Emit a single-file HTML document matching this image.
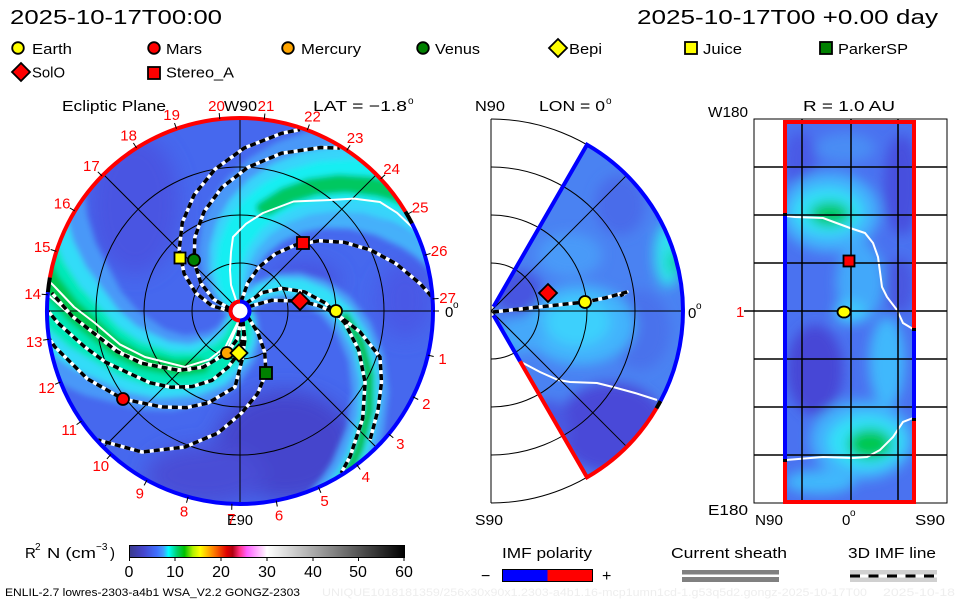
<!DOCTYPE html>
<html><head><meta charset="utf-8">
<style>
html,body{margin:0;padding:0;background:#fff;}
svg{display:block;}
text{font-family:"Liberation Sans",sans-serif;}
</style></head>
<body>
<svg width="960" height="600" viewBox="0 0 960 600" xmlns="http://www.w3.org/2000/svg">
<defs>
 <clipPath id="cd"><circle cx="240" cy="311" r="193"/></clipPath>
 <clipPath id="cw"><path d="M493.5,306.7 L587,144.7 A192,192 0 0 1 587,477.3 L493.5,315.3 Z"/></clipPath>
 <clipPath id="cr"><rect x="785" y="122" width="129" height="380"/></clipPath>
 <filter id="b3" filterUnits="userSpaceOnUse" x="0" y="0" width="960" height="600"><feGaussianBlur stdDeviation="3"/></filter>
 <filter id="b10" filterUnits="userSpaceOnUse" x="0" y="0" width="960" height="600"><feGaussianBlur stdDeviation="10"/></filter>
 <filter id="b6" filterUnits="userSpaceOnUse" x="0" y="0" width="960" height="600"><feGaussianBlur stdDeviation="6"/></filter>
 <linearGradient id="cbg" x1="0" x2="1" y1="0" y2="0">
  <stop offset="0" stop-color="#3a3a8c"/>
  <stop offset="0.05" stop-color="#4444cc"/>
  <stop offset="0.1" stop-color="#4070ff"/>
  <stop offset="0.124" stop-color="#40a0ff"/>
  <stop offset="0.142" stop-color="#00ffff"/>
  <stop offset="0.172" stop-color="#00d070"/>
  <stop offset="0.2" stop-color="#00c000"/>
  <stop offset="0.23" stop-color="#b0f000"/>
  <stop offset="0.257" stop-color="#ffff00"/>
  <stop offset="0.305" stop-color="#ff8000"/>
  <stop offset="0.354" stop-color="#e00000"/>
  <stop offset="0.375" stop-color="#b00010"/>
  <stop offset="0.4" stop-color="#ff3080"/>
  <stop offset="0.427" stop-color="#ff60ff"/>
  <stop offset="0.487" stop-color="#ffe0ff"/>
  <stop offset="0.5" stop-color="#ffffff"/>
  <stop offset="1" stop-color="#000000"/>
 </linearGradient>
 <!-- spiral geometry -->
 <path id="k58" fill="none" d="M230.4,311.2 L211.7,305.7 L195.6,292.9 L184.1,273.6 L179.2,249.6 L182.3,222.6 L194.1,194.9 L215.0,169.2 L244.4,147.9 L281.4,133.4 L300.0,129.6"/>
 <path id="k58x" fill="none" d="M230.4,311.2 L211.7,305.7 L195.6,292.9 L184.1,273.6 L179.2,249.6 L182.3,222.6 L194.1,194.9 L215.0,169.2 L244.4,147.9 L281.4,133.4 L300.0,129.6 L324.2,127.8"/>
 <path id="k58o" fill="none" d="M182.3,222.6 L194.1,194.9 L215.0,169.2 L244.4,147.9 L281.4,133.4 L300.0,129.6 L324.2,127.8"/>
 <path id="k41" fill="none" d="M241.2,301.5 L247.6,283.2 L259.1,267.0 L275.4,253.9 L295.6,244.9 L318.9,240.8 L344.2,242.3 L370.4,249.9 L396.2,263.8 L420.4,283.9 L431.4,296.3"/>
 <path id="k41x" fill="none" d="M241.2,301.5 L247.6,283.2 L259.1,267.0 L275.4,253.9 L295.6,244.9 L318.9,240.8 L344.2,242.3 L370.4,249.9 L396.2,263.8 L420.4,283.9 L431.4,296.3 L450.7,325.3"/>
 <path id="k41o" fill="none" d="M318.9,240.8 L344.2,242.3 L370.4,249.9 L396.2,263.8 L420.4,283.9 L431.4,296.3 L450.7,325.3"/>
 <path id="mer" fill="none" d="M241.3,320.5 L236.9,339.6 L227,353 L203.1,367.2 L178.6,370.3 L141.6,363.3 L116.9,351.5 L94.9,334.0 L72.1,316.1 L51.8,292.9"/>
 <path id="merx" fill="none" d="M241.3,320.5 L236.9,339.6 L227,353 L203.1,367.2 L178.6,370.3 L141.6,363.3 L116.9,351.5 L94.9,334.0 L72.1,316.1 L51.8,292.9 L34.2,263.5"/>
 <path id="mero" fill="none" d="M203.1,367.2 L178.6,370.3 L141.6,363.3 L116.9,351.5 L94.9,334.0 L72.1,316.1 L51.8,292.9 L34.2,263.5"/>
 <path id="bepi" fill="none" d="M242.8,320.2 L243.8,334.7 L239,353 L228,367.3 L211.9,380.4 L192.3,386.5 L171.3,387.3 L149.8,382.7 L128.3,372.9 L105.4,362.1 L84.7,346.9 L58,323 L48,311"/>
 <path id="mars" fill="none" d="M242.8,320.2 L244.9,339.4 L242,360 L235,387 L208,403 L186.5,407.6 L162,407 L123,399 L87.4,378.9 L55,347 L44.3,331.6"/>
 <path id="psp" fill="none" d="M247.7,316.8 L258,333 L264.7,352.1 L266,373 L257.6,393.6 L241.8,412.8 L218,433 L185,447 L142,452 L98,440"/>
 <path id="solo" fill="none" d="M248.6,306.7 L271.8,300.3 L300,301 L318.5,305.5 L336,313.5 L360.1,332 L380,357 L381.5,382.2 L378,410 L370,440"/>
 <path id="w2" fill="none" d="M239.7,318.7 L225.6,346.6 L209.1,359.6 L185,367 L145,357 L119.7,344.3 L95,323 L74,307 L55,287 L47,279"/>
</defs>

<!-- Header -->
<text x="10" y="24" font-size="20" textLength="212" lengthAdjust="spacingAndGlyphs">2025-10-17T00:00</text>
<text x="637" y="24" font-size="20" textLength="301" lengthAdjust="spacingAndGlyphs">2025-10-17T00 +0.00 day</text>

<!-- Legend -->
<g stroke="#000" stroke-width="1.8">
 <circle cx="18" cy="48" r="5.8" fill="#ffff00"/>
 <circle cx="154" cy="48" r="5.8" fill="#ff0000"/>
 <circle cx="288" cy="48" r="5.8" fill="#ffa500"/>
 <circle cx="423" cy="48" r="5.8" fill="#008000"/>
 <path d="M558,39 L567,48 L558,57 L549,48 Z" fill="#ffff00"/>
 <rect x="685" y="42" width="12" height="12" fill="#ffff00"/>
 <rect x="820" y="42" width="12" height="12" fill="#008000"/>
 <path d="M21,63 L30,72 L21,81 L12,72 Z" fill="#ff0000"/>
 <rect x="148" y="67" width="12" height="12" fill="#ff0000"/>
</g>
<g font-size="15">
 <text x="32" y="54" textLength="40" lengthAdjust="spacingAndGlyphs">Earth</text>
 <text x="166" y="54" textLength="36" lengthAdjust="spacingAndGlyphs">Mars</text>
 <text x="301" y="54" textLength="60" lengthAdjust="spacingAndGlyphs">Mercury</text>
 <text x="435" y="54" textLength="45" lengthAdjust="spacingAndGlyphs">Venus</text>
 <text x="569" y="54" textLength="33" lengthAdjust="spacingAndGlyphs">Bepi</text>
 <text x="703" y="54" textLength="39" lengthAdjust="spacingAndGlyphs">Juice</text>
 <text x="838" y="54" textLength="70" lengthAdjust="spacingAndGlyphs">ParkerSP</text>
 <text x="32" y="77.5" textLength="33" lengthAdjust="spacingAndGlyphs">SolO</text>
 <text x="166" y="77.5" textLength="68" lengthAdjust="spacingAndGlyphs">Stereo_A</text>
</g>

<!-- Panel titles -->
<g font-size="15">
 <text x="62" y="111" textLength="104" lengthAdjust="spacingAndGlyphs">Ecliptic Plane</text>
 <text x="224" y="111" textLength="33" lengthAdjust="spacingAndGlyphs">W90</text>
 <text x="313" y="111" textLength="94" lengthAdjust="spacingAndGlyphs">LAT = −1.8</text>
 <text x="408" y="104" font-size="10">o</text>
 <text x="475" y="111" textLength="30" lengthAdjust="spacingAndGlyphs">N90</text>
 <text x="539" y="111" textLength="66" lengthAdjust="spacingAndGlyphs">LON = 0</text>
 <text x="606" y="104" font-size="10">o</text>
 <text x="803" y="111" textLength="92" lengthAdjust="spacingAndGlyphs">R = 1.0 AU</text>
 <text x="708" y="117" textLength="40" lengthAdjust="spacingAndGlyphs">W180</text>
 <text x="708" y="515" textLength="40" lengthAdjust="spacingAndGlyphs">E180</text>
 <text x="445" y="317">0</text>
 <text x="453" y="308" font-size="10">o</text>
 <text x="227" y="525" textLength="26" lengthAdjust="spacingAndGlyphs">E90</text>
 <text x="688" y="318">0</text>
 <text x="696" y="309" font-size="10">o</text>
 <text x="475" y="525" textLength="28" lengthAdjust="spacingAndGlyphs">S90</text>
 <text x="755" y="525" textLength="28" lengthAdjust="spacingAndGlyphs">N90</text>
 <text x="842" y="525">0</text>
 <text x="850" y="516" font-size="10">o</text>
 <text x="915" y="525" textLength="30" lengthAdjust="spacingAndGlyphs">S90</text>
</g>

<!-- ===== LEFT DISK ===== -->
<g clip-path="url(#cd)">
 <circle cx="240" cy="311" r="196" fill="#4668ee"/>
 <g filter="url(#b10)">
  <ellipse cx="285" cy="445" rx="70" ry="55" fill="#4545cc"/>
  <ellipse cx="205" cy="475" rx="60" ry="30" fill="#4a4ed6"/>
  <ellipse cx="135" cy="205" rx="45" ry="70" fill="#4a54e2"/>
  <ellipse cx="405" cy="300" rx="28" ry="38" fill="#4a58e6"/>
  <ellipse cx="305" cy="280" rx="35" ry="18" fill="#4652e0"/>
 </g>
 <g filter="url(#b3)" fill="none" stroke-linecap="round" stroke-linejoin="round">
  <!-- top arm -->
  <g stroke="#4a98f8" stroke-width="22">
   <use href="#k41x" transform="rotate(-15 240 311)"/>
   <use href="#k41x" transform="rotate(-22 240 311)"/>
   <use href="#k41x" transform="rotate(-29 240 311)"/>
   <use href="#k41x" transform="rotate(-37 240 311)"/>
   <use href="#k41x" transform="rotate(-44 240 311)"/>
   <use href="#k41x" transform="rotate(-51 240 311)"/>
   <use href="#k41x" transform="rotate(-59 240 311)"/>
  </g>
  <g stroke="#44b0fa" stroke-width="16">
   <use href="#k41x" transform="rotate(-14 240 311)"/>
  </g>
  <g stroke="#38d4fa" stroke-width="18">
   <use href="#k41x" transform="rotate(-24 240 311)"/>
   <use href="#k41x" transform="rotate(-31 240 311)"/>
   <use href="#k41x" transform="rotate(-37 240 311)"/>
   <use href="#k41x" transform="rotate(-43 240 311)"/>
   <use href="#k41x" transform="rotate(-50 240 311)"/>
  </g>
  <g stroke="#14eef2" stroke-width="14">
   <use href="#k41x" transform="rotate(-30 240 311)"/>
   <use href="#k41x" transform="rotate(-37 240 311)"/>
   <use href="#k41x" transform="rotate(-44 240 311)"/>
  </g>
  <g stroke="#00c860" stroke-width="13">
   <use href="#k41o" transform="rotate(-33 240 311)"/>
   <use href="#k41o" transform="rotate(-36 240 311)"/>
  </g>
  <!-- lower-left arm -->
  <g stroke="#4a98f8" stroke-width="24">
   <use href="#merx" transform="rotate(24 240 311)"/>
   <use href="#merx" transform="rotate(16 240 311)"/>
   <use href="#merx" transform="rotate(8 240 311)"/>
   <use href="#merx"/>
   <use href="#merx" transform="rotate(-8 240 311)"/>
   <use href="#merx" transform="rotate(-16 240 311)"/>
   <use href="#merx" transform="rotate(-24 240 311)"/>
  </g>
  <g stroke="#30dcf8" stroke-width="22">
   <use href="#merx" transform="rotate(15 240 311)"/>
   <use href="#merx" transform="rotate(7.5 240 311)"/>
   <use href="#merx"/>
   <use href="#merx" transform="rotate(-7.5 240 311)"/>
   <use href="#merx" transform="rotate(-15 240 311)"/>
  </g>
  <g stroke="#00e8b8" stroke-width="18">
   <use href="#merx" transform="rotate(8 240 311)"/>
   <use href="#merx"/>
   <use href="#merx" transform="rotate(-8 240 311)"/>
  </g>
  <g stroke="#00c850" stroke-width="12">
   <use href="#mero" transform="rotate(4 240 311)"/>
   <use href="#mero"/>
  </g>
  <!-- Earth arm -->
  <g stroke="#4aa0f8" stroke-width="14">
   <use href="#k58x" transform="rotate(118.2 240 311)"/>
   <use href="#k58x" transform="rotate(126.2 240 311)"/>
   <use href="#k58x" transform="rotate(134.2 240 311)"/>
  </g>
  <g stroke="#30e0f8" stroke-width="11">
   <use href="#k58x" transform="rotate(123 240 311)"/>
   <use href="#k58x" transform="rotate(129 240 311)"/>
  </g>
  <g stroke="#00c040" stroke-width="9">
   <use href="#k58o" transform="rotate(126.2 240 311)"/>
  </g>
 </g>
 <g fill="none" stroke="#000" stroke-width="1">
  <circle cx="240" cy="311" r="48"/>
  <circle cx="240" cy="311" r="96"/>
  <circle cx="240" cy="311" r="144"/>
  <line x1="47" y1="311" x2="433" y2="311"/>
  <line x1="240" y1="118" x2="240" y2="504"/>
  <line x1="103.5" y1="174.5" x2="376.5" y2="447.5"/>
  <line x1="103.5" y1="447.5" x2="376.5" y2="174.5"/>
 </g>
 <!-- current sheath lines -->
 <g fill="none" stroke="#fff" stroke-width="2" stroke-linejoin="round">
  <polyline points="236.6,302 231,285 230,270 231,252 233,237 246,223.8 263,213 293.6,201.5 330,200 354,198.6 380,202 397,212.8 412,227 418,235"/>
  <use href="#w2"/>
  <use href="#w2" transform="rotate(-4 240 311)"/>
 </g>
 <!-- IMF field lines -->
 <g fill="none" stroke="#fff" stroke-width="3.5" stroke-linejoin="round">
  <use href="#k58"/>
  <use href="#k58" transform="rotate(13.2 240 311)"/>
  <use href="#k58" transform="rotate(129.7 240 311)"/>
  <use href="#k41"/>
  <use href="#solo"/>
  <use href="#mer"/>
  <use href="#bepi"/>
  <use href="#mars"/>
  <use href="#psp"/>
 </g>
 <g fill="none" stroke="#000" stroke-width="3.5" stroke-dasharray="6 4">
  <use href="#k58"/>
  <use href="#k58" transform="rotate(13.2 240 311)"/>
  <use href="#k58" transform="rotate(129.7 240 311)"/>
  <use href="#k41"/>
  <use href="#solo"/>
  <use href="#mer"/>
  <use href="#bepi"/>
  <use href="#mars"/>
  <use href="#psp"/>
 </g>
</g>

<!-- polarity ring -->
<g fill="none" stroke-width="4">
 <path d="M405.4,211.6 A193,193 0 0 0 49.9,277.5" stroke="#ff0000"/>
 <path d="M49.9,277.5 A193,193 0 0 0 47.9,292.2" stroke="#000"/>
 <path d="M47.9,292.2 A193,193 0 1 0 412.0,223.4" stroke="#0000ff"/>
 <path d="M412.0,223.4 A193,193 0 0 0 405.4,211.6" stroke="#000"/>
</g>
<!-- day ticks -->
<g stroke="#000" stroke-width="1">
 <line x1="433" y1="311" x2="439" y2="311"/>
 <line x1="427.9" y1="355.1" x2="433.7" y2="356.5"/>
 <line x1="412.9" y1="396.8" x2="418.2" y2="399.5"/>
 <line x1="388.7" y1="434.0" x2="393.3" y2="437.8"/>
 <line x1="356.7" y1="464.7" x2="360.3" y2="469.5"/>
 <line x1="318.5" y1="487.3" x2="320.9" y2="492.8"/>
 <line x1="276.2" y1="500.6" x2="277.3" y2="506.5"/>
 <line x1="231.9" y1="503.8" x2="231.7" y2="509.8"/>
 <line x1="188.1" y1="496.9" x2="186.5" y2="502.7"/>
 <line x1="147.0" y1="480.1" x2="144.1" y2="485.4"/>
 <line x1="110.9" y1="454.4" x2="106.9" y2="458.9"/>
 <line x1="81.5" y1="421.1" x2="76.6" y2="424.6"/>
 <line x1="60.5" y1="382.0" x2="55.0" y2="384.3"/>
 <line x1="49.1" y1="339.2" x2="43.1" y2="340.1"/>
 <line x1="47.7" y1="294.8" x2="41.7" y2="294.3"/>
 <line x1="56.4" y1="251.4" x2="50.7" y2="249.5"/>
 <line x1="74.9" y1="211.0" x2="69.8" y2="207.9"/>
 <line x1="102.1" y1="176.0" x2="97.8" y2="171.8"/>
 <line x1="136.6" y1="148.0" x2="133.4" y2="143.0"/>
 <line x1="176.5" y1="128.7" x2="174.5" y2="123.1"/>
 <line x1="219.8" y1="119.1" x2="219.2" y2="113.1"/>
 <line x1="264.2" y1="119.5" x2="264.9" y2="113.6"/>
 <line x1="307.3" y1="130.1" x2="309.4" y2="124.5"/>
 <line x1="346.8" y1="150.3" x2="350.1" y2="145.3"/>
 <line x1="380.7" y1="178.9" x2="385.1" y2="174.8"/>
 <line x1="407.1" y1="214.5" x2="412.3" y2="211.5"/>
 <line x1="424.8" y1="255.2" x2="430.5" y2="253.5"/>
 <line x1="432.6" y1="298.9" x2="438.6" y2="298.5"/>
</g>

<!-- Day labels -->
<g font-size="15" fill="#ff0000" text-anchor="middle">
 <text x="442.5" y="364">1</text>
 <text x="426.3" y="409">2</text>
 <text x="400.3" y="449">3</text>
 <text x="365.8" y="482">4</text>
 <text x="324.6" y="506">5</text>
 <text x="279" y="520.5">6</text>
 <text x="231.3" y="524">7</text>
 <text x="184.1" y="516.5">8</text>
 <text x="139.8" y="498.5">9</text>
 <text x="100.8" y="471">10</text>
 <text x="69.2" y="435">11</text>
 <text x="46.6" y="393">12</text>
 <text x="34.2" y="347">13</text>
 <text x="32.7" y="299">14</text>
 <text x="42.2" y="252">15</text>
 <text x="62.1" y="208.5">16</text>
 <text x="91.4" y="171">17</text>
 <text x="128.6" y="140.5">18</text>
 <text x="171.6" y="120">19</text>
 <text x="216.5" y="111">20</text>
 <text x="266" y="111">21</text>
 <text x="312.5" y="121.5">22</text>
 <text x="355.1" y="143">23</text>
 <text x="391.6" y="174">24</text>
 <text x="420.1" y="212.5">25</text>
 <text x="439.1" y="256">26</text>
 <text x="447.6" y="303">27</text>
</g>

<!-- Sun -->
<circle cx="240" cy="311" r="9.5" fill="#fff" stroke="#0000ff" stroke-width="4"/>
<path d="M240,301.5 A9.5,9.5 0 0 0 240,320.5" fill="none" stroke="#ff0000" stroke-width="4"/>
<circle cx="240" cy="311" r="7" fill="#fff"/>

<!-- Left markers -->
<g stroke="#000" stroke-width="1.8">
 <rect x="174.5" y="252.5" width="11" height="11" fill="#ffff00"/>
 <circle cx="194" cy="260" r="6" fill="#008000"/>
 <rect x="297" y="237" width="12" height="12" fill="#ff0000"/>
 <path d="M300,292 L309,301 L300,310 L291,301 Z" fill="#ff0000"/>
 <circle cx="336" cy="311" r="6" fill="#ffff00"/>
 <circle cx="227" cy="353" r="6" fill="#ffa500"/>
 <path d="M239,344.5 L247.5,353 L239,361.5 L230.5,353 Z" fill="#ffff00"/>
 <rect x="260" y="367" width="12" height="12" fill="#008000"/>
 <circle cx="123" cy="399" r="6" fill="#ff0000"/>
</g>

<!-- ===== MIDDLE WEDGE ===== -->
<g clip-path="url(#cw)">
 <rect x="480" y="130" width="210" height="360" fill="#4a82f2"/>
 <g filter="url(#b6)">
  <ellipse cx="570" cy="255" rx="32" ry="22" fill="#4a9af8"/>
  <ellipse cx="620" cy="205" rx="25" ry="30" fill="#4a6cea"/>
  <ellipse cx="640" cy="330" rx="30" ry="40" fill="#4a72ec"/>
  <ellipse cx="580" cy="325" rx="55" ry="40" fill="#42b4fc"/>
  <ellipse cx="578" cy="322" rx="32" ry="24" fill="#3ed0fc"/>
  <ellipse cx="520" cy="335" rx="22" ry="18" fill="#44a8fa"/>
  <ellipse cx="518" cy="292" rx="25" ry="22" fill="#4654e0"/>
  <ellipse cx="612" cy="428" rx="55" ry="45" fill="#4848d8"/>
  <ellipse cx="548" cy="430" rx="22" ry="30" fill="#4a58e2"/>
  <ellipse cx="668" cy="255" rx="14" ry="32" fill="#30e0f0"/>
  <ellipse cx="673" cy="262" rx="6" ry="13" fill="#00d8a0"/>
 </g>
 <polyline points="523,363 540,372 558,380 570,382 597,383 613,387 635,393 657,400" fill="none" stroke="#fff" stroke-width="2"/>
</g>
<g fill="none" stroke="#000" stroke-width="1">
 <path d="M491,263 A48,48 0 0 1 491,359"/>
 <path d="M491,215 A96,96 0 0 1 491,407"/>
 <path d="M491,167 A144,144 0 0 1 491,455"/>
 <path d="M491,119 A192,192 0 0 1 491,503"/>
 <line x1="491" y1="119" x2="491" y2="503"/>
 <line x1="491" y1="311" x2="683" y2="311"/>
 <line x1="491" y1="311" x2="626.8" y2="175.2"/>
 <line x1="491" y1="311" x2="626.8" y2="446.8"/>
</g>
<polyline points="493,312 520,309 548,306 585,302 605,298 627,292 620,296" fill="none" stroke="#fff" stroke-width="3.5" stroke-linejoin="round"/>
<polyline points="493,312 520,309 548,306 585,302 605,298 627,292 620,296" fill="none" stroke="#000" stroke-width="3.5" stroke-dasharray="6 4"/>
<g fill="none" stroke-width="4">
 <path d="M493.5,306.7 L587,144.7 A192,192 0 0 1 660.5,401.1" stroke="#0000ff"/>
 <path d="M660.5,401.1 A192,192 0 0 1 656.4,408.4" stroke="#000"/>
 <path d="M656.4,408.4 A192,192 0 0 1 587,477.3 L520,361.2" stroke="#ff0000"/>
 <path d="M520,361.2 L493.5,315.3" stroke="#0000ff"/>
</g>
<g stroke="#000" stroke-width="1.8">
 <path d="M548,284 L557,293 L548,302 L539,293 Z" fill="#ff0000"/>
 <circle cx="585" cy="302" r="6" fill="#ffff00"/>
</g>

<!-- ===== RIGHT PANEL ===== -->
<rect x="754" y="119" width="193" height="384" fill="#fff" stroke="#000" stroke-width="1"/>
<g clip-path="url(#cr)">
 <rect x="780" y="118" width="140" height="390" fill="#4a72f0"/>
 <g filter="url(#b6)">
  <ellipse cx="845" cy="148" rx="30" ry="15" fill="#4a8cf4"/>
  <ellipse cx="800" cy="160" rx="16" ry="28" fill="#4a5ae6"/>
  <ellipse cx="902" cy="185" rx="18" ry="50" fill="#4650de"/>
  <ellipse cx="900" cy="285" rx="14" ry="28" fill="#4a56e0"/>
  <ellipse cx="830" cy="212" rx="50" ry="40" fill="#42b0fc"/>
  <ellipse cx="828" cy="212" rx="35" ry="24" fill="#30e0f8"/>
  <ellipse cx="830" cy="214" rx="20" ry="12" fill="#00c860"/>
  <ellipse cx="860" cy="282" rx="24" ry="40" fill="#42a8fa"/>
  <ellipse cx="850" cy="312" rx="16" ry="12" fill="#40c8fc"/>
  <ellipse cx="887" cy="362" rx="18" ry="45" fill="#40b8fc"/>
  <ellipse cx="815" cy="370" rx="28" ry="45" fill="#4646d6"/>
  <ellipse cx="862" cy="440" rx="52" ry="40" fill="#42b0fc"/>
  <ellipse cx="866" cy="442" rx="38" ry="27" fill="#30e0f8"/>
  <ellipse cx="870" cy="444" rx="22" ry="15" fill="#00c850"/>
  <ellipse cx="820" cy="482" rx="35" ry="12" fill="#40b8fc"/>
 </g>
 <polyline points="786,216 795,217 823,218 850,228 865,233 873,243 878,257 882,287 887,297 897,310 903,323 913,329" fill="none" stroke="#fff" stroke-width="2"/>
 <polyline points="786,460 823,457 853,458 867,457 880,450 893,437 903,422 913,418" fill="none" stroke="#fff" stroke-width="2"/>
</g>
<g stroke="#000" stroke-width="1.5">
 <line x1="802" y1="119" x2="802" y2="503"/>
 <line x1="851" y1="119" x2="851" y2="503"/>
 <line x1="898" y1="119" x2="898" y2="503"/>
 <line x1="754" y1="167" x2="947" y2="167"/>
 <line x1="754" y1="215" x2="947" y2="215"/>
 <line x1="754" y1="263" x2="947" y2="263"/>
 <line x1="754" y1="311" x2="947" y2="311"/>
 <line x1="754" y1="359" x2="947" y2="359"/>
 <line x1="754" y1="407" x2="947" y2="407"/>
 <line x1="754" y1="455" x2="947" y2="455"/>
 <line x1="744" y1="311" x2="754" y2="311"/>
</g>
<g fill="none" stroke-width="4">
 <path d="M785,213 L785,122 L914,122 L914,328" stroke="#ff0000"/>
 <path d="M785,213 L785,216" stroke="#000"/>
 <path d="M785,216 L785,459" stroke="#0000ff"/>
 <path d="M785,459 L785,462" stroke="#000"/>
 <path d="M785,462 L785,502 L914,502 L914,421" stroke="#ff0000"/>
 <path d="M914,328 L914,331" stroke="#000"/>
 <path d="M914,331 L914,418" stroke="#0000ff"/>
 <path d="M914,418 L914,421" stroke="#000"/>
</g>
<text x="736" y="317" font-size="15" fill="#ff0000">1</text>
<g stroke="#000" stroke-width="1.8">
 <rect x="843.5" y="255.5" width="11" height="11" fill="#ff0000"/>
 <ellipse cx="844" cy="312" rx="6.5" ry="5.5" fill="#ffff00"/>
</g>

<!-- ===== BOTTOM ===== -->
<g font-size="15">
 <text x="25" y="558">R</text>
 <text x="35" y="550" font-size="10">2</text>
 <text x="47" y="558" textLength="49" lengthAdjust="spacingAndGlyphs">N (cm</text>
 <text x="96" y="550" font-size="10">−3</text>
 <text x="110" y="558">)</text>
</g>
<rect x="129.5" y="545.5" width="275" height="12" fill="url(#cbg)" stroke="#000" stroke-width="1"/>
<g stroke="#000" stroke-width="1">
 <line x1="129.5" y1="557" x2="129.5" y2="561"/><line x1="175" y1="557" x2="175" y2="561"/>
 <line x1="221" y1="557" x2="221" y2="561"/><line x1="267" y1="557" x2="267" y2="561"/>
 <line x1="313" y1="557" x2="313" y2="561"/><line x1="358.5" y1="557" x2="358.5" y2="561"/>
 <line x1="404" y1="557" x2="404" y2="561"/>
</g>
<g font-size="16" text-anchor="middle">
 <text x="129" y="577">0</text><text x="175" y="577">10</text><text x="221" y="577">20</text>
 <text x="267" y="577">30</text><text x="313" y="577">40</text><text x="358" y="577">50</text>
 <text x="404" y="577">60</text>
</g>
<text x="5" y="596" font-size="11" textLength="295" lengthAdjust="spacingAndGlyphs">ENLIL-2.7 lowres-2303-a4b1 WSA_V2.2 GONGZ-2303</text>
<text x="322" y="596" font-size="11" fill="#eeeeee" textLength="545" lengthAdjust="spacingAndGlyphs">UNIQUE1018181359/256x30x90x1.2303-a4b1.16-mcp1umn1cd-1.g53q5d2.gongz-2025-10-17T00</text>
<text x="883" y="596" font-size="11" fill="#eeeeee" textLength="72" lengthAdjust="spacingAndGlyphs">2025-10-18</text>

<g font-size="15">
 <text x="502" y="558" textLength="90" lengthAdjust="spacingAndGlyphs">IMF polarity</text>
 <text x="671" y="558" textLength="116" lengthAdjust="spacingAndGlyphs">Current sheath</text>
 <text x="848" y="558" textLength="88" lengthAdjust="spacingAndGlyphs">3D IMF line</text>
 <text x="481" y="581" font-size="16">−</text>
 <text x="602" y="581" font-size="16">+</text>
</g>
<rect x="502.5" y="569.5" width="45" height="12" fill="#0000ff"/>
<rect x="547.5" y="569.5" width="45" height="12" fill="#ff0000"/>
<rect x="502.5" y="569.5" width="90" height="12" fill="none" stroke="#000" stroke-width="1"/>
<rect x="682" y="570" width="97" height="4.5" fill="#808080"/>
<rect x="682" y="577" width="97" height="5" fill="#808080"/>
<rect x="850" y="570" width="87" height="12" fill="#d0d0d0"/>
<rect x="850" y="574.5" width="87" height="3" fill="#ffffff"/>
<line x1="850" y1="576" x2="937" y2="576" stroke="#000" stroke-width="3" stroke-dasharray="10 8.5"/>
</svg>
</body></html>
